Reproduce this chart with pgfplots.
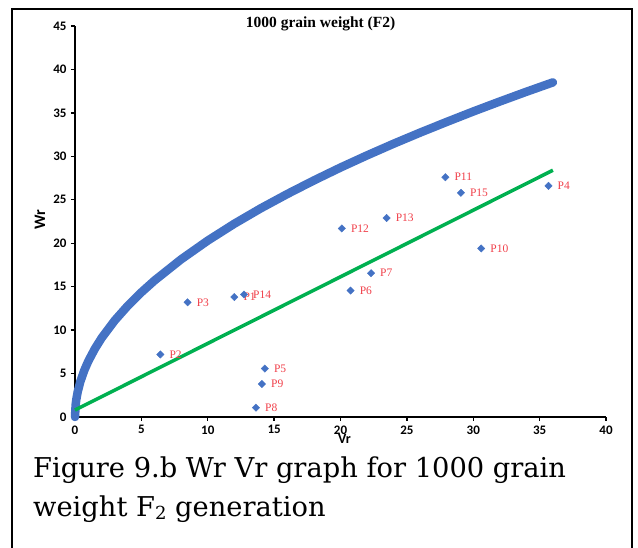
\documentclass[border=0pt]{standalone}
\usepackage{pgfplots}
\pgfplotsset{compat=1.18}
\usepackage{fontspec}
\newfontfamily\carlito{Carlito}
\newfontfamily\lserif{Liberation Serif}
\newfontfamily\capfont{DejaVu Serif}
\definecolor{cblue}{HTML}{4472C4}
\definecolor{cgreen}{HTML}{00B050}
\definecolor{cred}{HTML}{F0404A}
\pgfplotstableread{
x y label
20.76 14.55 P6
22.3 16.55 P7
30.6 19.4 P10
20.1 21.7 P12
23.47 22.9 P13
27.9 27.6 P11
29.07 25.8 P15
35.67 26.6 P4
8.48 13.2 P3
12.0 13.8 P1
12.73 14.1 P14
6.43 7.2 P2
14.3 5.57 P5
14.08 3.8 P9
13.63 1.07 P8
}\parents
\begin{document}
\begin{tikzpicture}
\begin{axis}[
  at={(0pt,0pt)}, anchor=south west,
  scale only axis, width=531pt, height=391pt,
  xmin=0, xmax=40, ymin=0, ymax=45,
  axis x line*=bottom, axis y line*=left,
  axis line style={line width=1.6pt,-},
  xtick={0,5,...,40}, ytick={0,5,...,45},
  tick align=outside, major tick length=4pt,
  tick style={line width=1.3pt,black},
  tick label style={font=\carlito\bfseries\fontsize{13}{14}\selectfont},
  /pgf/number format/assume math mode=true,
  xticklabel style={yshift=-1pt},
  yticklabel style={xshift=-1pt},
  clip=false,
  title={1000 grain weight (F2)},
  title style={at={(axis cs:18.5,44.6)}, anchor=center, font=\lserif\bfseries\fontsize{15.5}{17}\selectfont},
  xlabel={Vr},
  xlabel style={at={(axis cs:20.3,-2.5)}, anchor=center, font=\carlito\bfseries\fontsize{14}{15}\selectfont},
  ylabel={Wr},
  ylabel style={at={(axis cs:-2.64,22.7)}, anchor=center, font=\carlito\bfseries\fontsize{16}{17}\selectfont},
]
\addplot[cblue, line width=8.5pt, line cap=round, line join=round] coordinates {
(0,0) (0.05,1.435) (0.1,2.03) (0.2,2.87) (0.4,4.06) (0.7,5.37) (1,6.42) (1.5,7.86) (2,9.08) (3,11.12) (4,12.84) (5,14.35) (6,15.72) (8,18.15) (10,20.30) (12,22.24) (14,24.02) (16,25.67) (18,27.23) (20,28.71) (22,30.11) (24,31.45) (26,32.73) (28,33.96) (30,35.16) (32,36.31) (34,37.43) (36,38.51)
};
\addplot[cgreen, line width=3.5pt] coordinates {(0,0.8) (36,28.4)};
\addplot[only marks, mark=square*, mark size=2.6pt, color=cblue, mark options={rotate=45}] coordinates {(0,0)};
\addplot[only marks, mark=square*, mark size=2.6pt, color=cblue, mark options={rotate=45},
  nodes near coords, point meta=explicit symbolic,
  nodes near coords style={anchor=west, xshift=8pt, font=\lserif\fontsize{11.5}{12}\selectfont, text=cred, inner sep=1pt}]
  table[x=x, y=y, meta=label] {\parents};
\end{axis}
\draw[line width=1.6pt] (-63pt,-131pt) -- (-63pt,408pt) -- (557pt,408pt) -- (557pt,-131pt);
\node[anchor=base west, inner sep=0pt, font=\capfont\fontsize{27.3}{33}\selectfont] at (-42pt,-61pt) {Figure 9.b Wr Vr graph for 1000 grain};
\node[anchor=base west, inner sep=0pt, font=\capfont\fontsize{27.3}{33}\selectfont] at (-42pt,-100pt) {weight F\raisebox{-2.5pt}{\fontsize{18}{20}\selectfont 2} generation};
\pgfresetboundingbox
\path[use as bounding box] (-75pt,-131pt) rectangle (563pt,417pt);
\end{tikzpicture}
\end{document}
